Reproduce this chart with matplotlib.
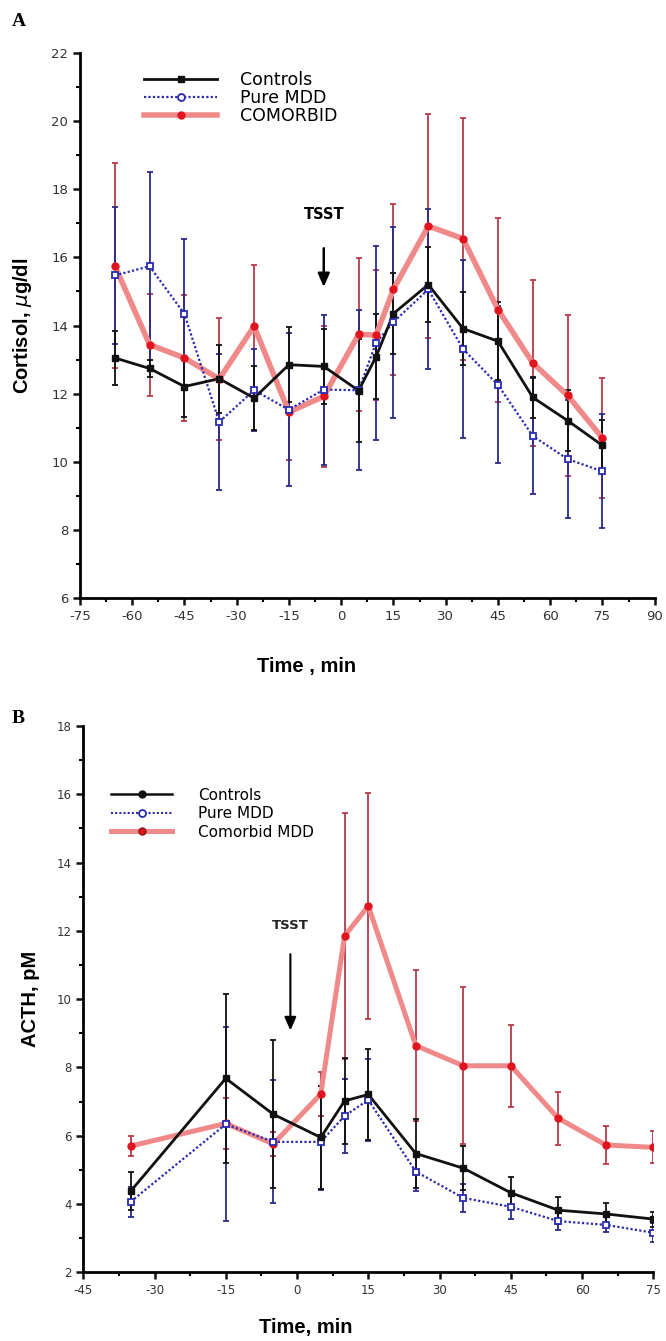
import matplotlib
matplotlib.use("Agg")
import matplotlib.pyplot as plt
import numpy as np
from matplotlib.lines import Line2D

# ---- Panel A: cortisol ----
time_a = [-65, -55, -45, -35, -25, -15, -5, 5, 10, 15, 25, 35, 45, 55, 65, 75]
cort_ctrl = [13.05, 12.74, 12.21, 12.44, 11.87, 12.85, 12.8, 12.09, 13.08, 14.35, 15.2, 13.91, 13.54, 11.89, 11.21, 10.48]
cort_ctrl_err = [0.8, 0.25, 0.9, 1.0, 0.95, 1.1, 1.1, 1.5, 1.25, 1.2, 1.1, 1.07, 1.15, 0.6, 0.9, 0.75]
cort_mdd = [15.47, 15.74, 14.34, 11.17, 12.1, 11.53, 12.12, 12.1, 13.49, 14.1, 15.06, 13.31, 12.26, 10.76, 10.08, 9.72]
cort_mdd_err = [2.0, 2.76, 2.2, 2.0, 1.2, 2.25, 2.2, 2.35, 2.85, 2.8, 2.35, 2.6, 2.3, 1.7, 1.73, 1.67]
cort_com = [15.76, 13.44, 13.05, 12.43, 13.98, 11.46, 11.92, 13.74, 13.72, 15.06, 16.92, 16.55, 14.47, 12.9, 11.95, 10.7]
cort_com_err = [3.0, 1.5, 1.85, 1.8, 1.8, 1.4, 2.07, 2.25, 1.9, 2.5, 3.3, 3.55, 2.7, 2.45, 2.37, 1.75]

# ---- Panel B: ACTH ----
time_b = [-35, -15, -5, 5, 10, 15, 25, 35, 45, 55, 65, 75]
acth_ctrl = [4.38, 7.68, 6.63, 5.95, 7.02, 7.21, 5.48, 5.05, 4.33, 3.82, 3.71, 3.56]
acth_ctrl_err = [0.55, 2.47, 2.17, 1.5, 1.25, 1.33, 1.0, 0.65, 0.45, 0.4, 0.33, 0.22]
acth_mdd = [4.07, 6.34, 5.82, 5.82, 6.58, 7.05, 4.95, 4.18, 3.92, 3.5, 3.39, 3.16]
acth_mdd_err = [0.44, 2.85, 1.8, 1.42, 1.08, 1.2, 0.57, 0.42, 0.35, 0.25, 0.22, 0.28]
acth_com = [5.7, 6.36, 5.76, 7.22, 11.85, 12.73, 8.64, 8.05, 8.05, 6.51, 5.73, 5.66]
acth_com_err = [0.3, 0.75, 0.35, 0.65, 3.6, 3.3, 2.2, 2.3, 1.2, 0.78, 0.55, 0.47]

CTRL = "#111111"
MDD = "#2b2bb0"
MDD_ERR = "#2a2a8a"
COM_LINE = "#f08a8a"
COM_MK = "#e0141e"
COM_ERR = "#b83a4a"

label_font = {"family": "Liberation Sans", "weight": "bold", "size": 14.5}

fig = plt.figure(figsize=(6.66, 13.41), dpi=100)
ax_a = fig.add_axes([0.120, 0.554, 0.863, 0.4065])
ax_b = fig.add_axes([0.125, 0.0512, 0.856, 0.4074])


def draw_series(ax, t, y, scale_lw=1.0):
    ctrl, ctrl_e, mdd, mdd_e, com, com_e = y
    # comorbid: thick salmon line, red dots
    ax.errorbar(t, com, yerr=com_e, fmt="none", ecolor=COM_ERR, elinewidth=1.3,
                capsize=2.5, capthick=1.3, zorder=2)
    ax.plot(t, com, color=COM_LINE, lw=4.0 * scale_lw, zorder=3, solid_capstyle="round")
    ax.plot(t, com, "o", color=COM_MK, ms=5, zorder=6, lw=0)
    # pure MDD: dotted blue, open squares
    ax.errorbar(t, mdd, yerr=mdd_e, fmt="none", ecolor=MDD_ERR, elinewidth=1.3,
                capsize=2.5, capthick=1.3, zorder=2)
    ax.plot(t, mdd, color=MDD, lw=1.6, ls=(0, (1, 1)), zorder=4)
    ax.plot(t, mdd, "s", mfc="white", mec=MDD, mew=1.3, ms=5, zorder=7, lw=0)
    # controls: solid black, filled squares
    ax.errorbar(t, ctrl, yerr=ctrl_e, fmt="none", ecolor=CTRL, elinewidth=1.3,
                capsize=2.5, capthick=1.3, zorder=2)
    ax.plot(t, ctrl, color=CTRL, lw=2.0, zorder=5)
    ax.plot(t, ctrl, "s", color=CTRL, ms=5, zorder=8, lw=0)


def style_axis(ax, xlim, xmajor, ylim, ymajor, tsize):
    ax.set_xlim(*xlim)
    ax.set_ylim(*ylim)
    ax.set_xticks(xmajor)
    ax.set_xticks(np.arange(xlim[0], xlim[1] + 0.1, 7.5), minor=True)
    ax.set_yticks(ymajor)
    ax.set_yticks(np.arange(ylim[0], ylim[1] + 0.1, 1), minor=True)
    for s in ("top", "right"):
        ax.spines[s].set_visible(False)
    for s in ("left", "bottom"):
        ax.spines[s].set_linewidth(2.0)
    ax.tick_params(which="major", direction="out", length=5, width=1.8,
                   labelsize=tsize, colors="#111111", labelcolor="#333333")
    ax.tick_params(which="minor", direction="out", length=3, width=1.5)
    ax.set_xticklabels([str(v) for v in xmajor], fontdict={"family": "DejaVu Sans", "size": tsize})
    ax.set_yticklabels([str(v) for v in ymajor], fontdict={"family": "DejaVu Sans", "size": tsize})


# Panel A
draw_series(ax_a, time_a, (cort_ctrl, cort_ctrl_err, cort_mdd, cort_mdd_err, cort_com, cort_com_err))
style_axis(ax_a, (-75, 90), list(range(-75, 91, 15)), (6, 22), list(range(6, 23, 2)), 9.5)
ax_a.set_ylabel("Cortisol, $\\mu$g/dl", fontdict=label_font, labelpad=12)
ax_a.set_xlabel("Time , min", fontdict=label_font)
ax_a.xaxis.set_label_coords(0.395, -0.108)
ax_a.annotate("", xy=(-5, 15.05), xytext=(-5, 16.35),
              arrowprops=dict(arrowstyle="-|>,head_length=0.8,head_width=0.35", color="black", lw=1.8))
ax_a.text(-5, 17.25, "TSST", ha="center", va="center", fontsize=10.5,
          fontweight="bold", family="DejaVu Sans")

handles_a = [
    Line2D([], [], color=CTRL, lw=2.0, marker="s", ms=5),
    Line2D([], [], color=MDD, lw=1.6, ls=(0, (1, 1)), marker="o", mfc="white", mec=MDD, mew=1.3, ms=5),
    Line2D([], [], color=COM_LINE, lw=4.0, marker="o", mfc=COM_MK, mec=COM_MK, ms=5),
]
ax_a.legend(handles_a, ["Controls", "Pure MDD", "COMORBID"], loc="upper left",
            bbox_to_anchor=(0.085, 0.995), frameon=False, handlelength=4.2,
            handletextpad=1.3, labelspacing=0.0, prop={"family": "DejaVu Sans", "size": 12.5})

# Panel B
draw_series(ax_b, time_b, (acth_ctrl, acth_ctrl_err, acth_mdd, acth_mdd_err, acth_com, acth_com_err), 0.9)
style_axis(ax_b, (-45, 75), list(range(-45, 76, 15)), (2, 18), list(range(2, 19, 2)), 8.5)
ax_b.set_ylabel("ACTH, pM", fontdict=label_font, labelpad=12)
ax_b.set_xlabel("Time, min", fontdict=label_font)
ax_b.xaxis.set_label_coords(0.39, -0.083)
ax_b.annotate("", xy=(-1.4, 9.0), xytext=(-1.4, 11.4),
              arrowprops=dict(arrowstyle="-|>,head_length=0.8,head_width=0.35", color="black", lw=1.5))
ax_b.text(-1.4, 12.17, "TSST", ha="center", va="center", fontsize=9.5,
          fontweight="bold", family="DejaVu Sans", color="#222222")

handles_b = [
    Line2D([], [], color=CTRL, lw=1.8, marker="o", ms=5),
    Line2D([], [], color=MDD, lw=1.5, ls=(0, (1, 1)), marker="o", mfc="white", mec=MDD, mew=1.3, ms=5),
    Line2D([], [], color=COM_LINE, lw=3.6, marker="o", mfc=COM_MK, mec="#8a1010", ms=5),
]
ax_b.legend(handles_b, ["Controls", "Pure MDD", "Comorbid MDD"], loc="upper left",
            bbox_to_anchor=(0.025, 0.912), frameon=False, handlelength=4.0,
            handletextpad=1.7, labelspacing=0.22, prop={"family": "DejaVu Sans", "size": 11})

fig.text(12 / 666, 1 - 22 / 1341, "A", fontsize=14, fontweight="bold", family="Liberation Serif",
         va="center", ha="left")
fig.text(12 / 666, 1 - 718 / 1341, "B", fontsize=14, fontweight="bold", family="Liberation Serif",
         va="center", ha="left")

fig.savefig("out.png", dpi=100, facecolor="white")
